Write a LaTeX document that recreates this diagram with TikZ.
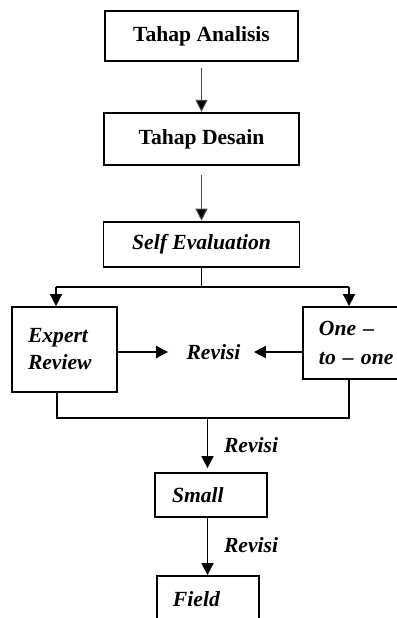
\documentclass[tikz,border=0pt]{standalone}
\usepackage{fontspec}
\setmainfont{Liberation Serif}
\usetikzlibrary{arrows.meta,positioning}

\begin{document}
\begin{tikzpicture}[
            x=0.5pt, y=-0.5pt,
            every node/.style={ font=\fontsize{10.8}{13.5}\selectfont\bfseries },
            stage/.style={ draw, line width=0.9pt, inner sep=0pt },
            leftbox/.style={ stage, align=left, inner xsep=8pt },
            link/.style={ line width=0.9pt },
            arrow/.style={ link, -{Triangle[width=6pt,length=6pt]} },
            thinarrow/.style={ line width=0.5pt, draw=black!70, -{Triangle[width=6pt,length=6pt,fill=black]}, shorten <=3pt },
            node distance=25pt
        ]
        \useasboundingbox (0,0) rectangle (397,618);

        \node[stage, minimum width=96.5pt, minimum height=25pt] (ana) at (201.5,36) {Tahap Analisis};
        \node[stage, minimum width=97.5pt, minimum height=26pt, below=25pt of ana] (des) {Tahap Desain};
        \node[stage, minimum width=98pt, minimum height=22.5pt, below=27.5pt of des, font=\fontsize{10.8}{13.5}\selectfont\bfseries\itshape] (self) {Self Evaluation};

        \node[leftbox, text width=36.5pt, minimum height=42.5pt, font=\fontsize{10.8}{13.5}\selectfont\bfseries\itshape] (expert) at (64.5,349.5) {Expert\\Review};
        \node[leftbox, text width=42pt, minimum height=36pt, font=\fontsize{10.8}{14.5}\selectfont\bfseries\itshape] (one) at (361,343) {One --\\to -- one};
        \node[inner sep=0pt, font=\fontsize{10.8}{13.5}\selectfont\bfseries\itshape] (rev) at (213.5,352) {Revisi};

        \node[leftbox, text width=39pt, inner xsep=8.5pt, minimum height=22pt, font=\fontsize{10.8}{13.5}\selectfont\bfseries\itshape] (small) at (211,495) {Small};
        \node[leftbox, text width=35pt, minimum height=23pt, font=\fontsize{10.8}{13.5}\selectfont\bfseries\itshape] (field) at (208,599) {Field};

        \node[font=\fontsize{10.8}{13.5}\selectfont\bfseries\itshape] (revsmall) at (251,445) {Revisi};
        \node[font=\fontsize{10.8}{13.5}\selectfont\bfseries\itshape] (revfield) at (251,545) {Revisi};

        % top of the chain
        \draw[thinarrow] (ana.south) -- (des.north);
        \draw[thinarrow, shorten <=4.5pt] (des.south) -- (self.north);

        % split into the two reviews
        \coordinate (forkL) at (56,287);
        \coordinate (forkR) at (349,287);
        \draw[link] (self.south) -- (self.south |- forkL);
        \draw[link] (forkL) -- (forkR);
        \draw[arrow] (forkL) -- (forkL |- expert.north);
        \draw[arrow] (forkR) -- (forkR |- one.north);

        \draw[arrow, shorten >=9pt] (expert.east |- rev.west) -- (rev.west);
        \draw[arrow, shorten >=6.5pt] (one.west |- rev.east) -- (rev.east);

        % join again
        \coordinate (joinL) at (57,418);
        \coordinate (joinR) at (349,418);
        \coordinate (joinM) at (207.5,418);
        \draw[link] (joinL |- expert.south) -- (joinL) -- (joinR) -- (joinR |- one.south);
        \draw[arrow, shorten >=2pt] (joinM) -- (joinM |- small.north);
        \draw[arrow] (small.south -| joinM) -- (field.north -| joinM);
    \end{tikzpicture}
\end{document}
